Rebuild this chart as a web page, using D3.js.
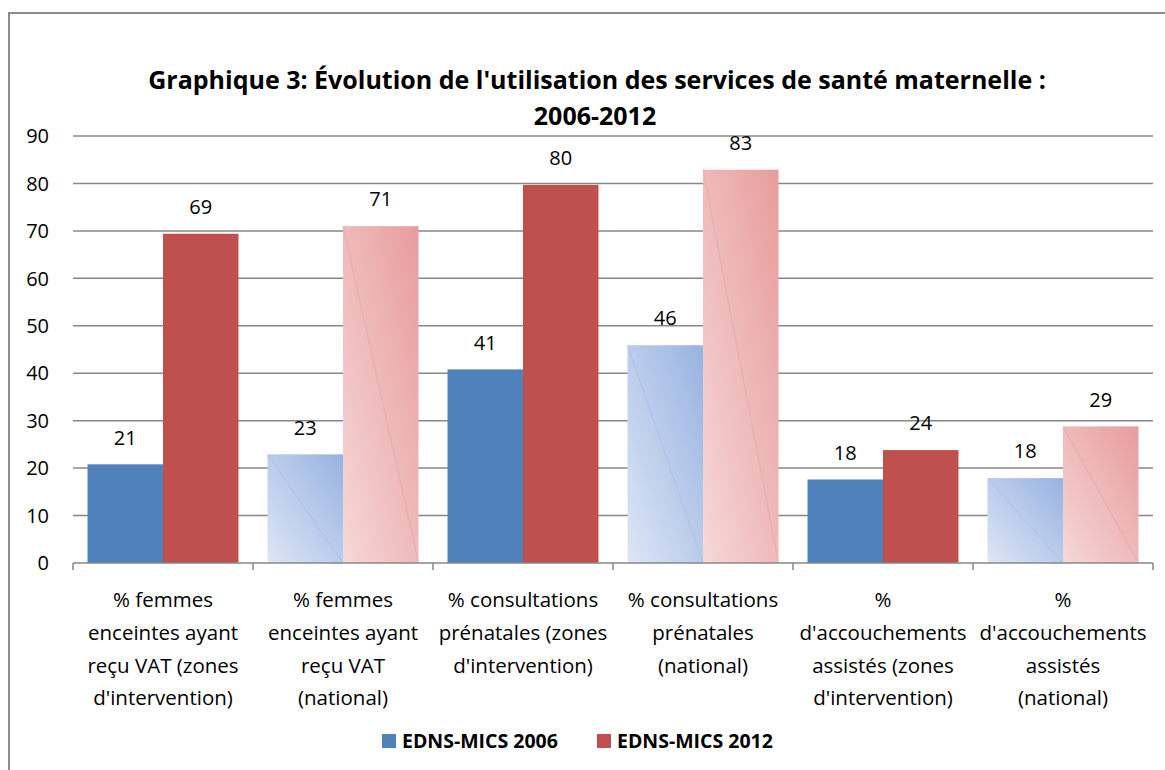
<!DOCTYPE html>
<html>
<head>
<meta charset="utf-8">
<script src="https://cdn.jsdelivr.net/npm/d3@7"></script>
<style>
  body { margin: 0; background: #fff; }
  text { font-family: "Open Sans", "Noto Sans", sans-serif; fill: #000; }
</style>
</head>
<body>
<div class="chart"></div>
<script>
// data
var categories = ["vatZones", "vatNational", "cpnZones", "cpnNational", "accZones", "accNational"];
var categoryLabels = [
  ["% femmes", "enceintes ayant", "reçu VAT (zones", "d'intervention)"],
  ["% femmes", "enceintes ayant", "reçu VAT", "(national)"],
  ["% consultations", "prénatales (zones", "d'intervention)"],
  ["% consultations", "prénatales", "(national)"],
  ["%", "d'accouchements", "assistés (zones", "d'intervention)"],
  ["%", "d'accouchements", "assistés", "(national)"]
];
var seriesNames = ["EDNS-MICS 2006", "EDNS-MICS 2012"];
var values2006 = [20.8, 22.9, 40.8, 45.9, 17.6, 17.9];
var values2012 = [69.4, 71.0, 79.7, 82.9, 23.8, 28.8];
var yTicks = [0, 10, 20, 30, 40, 50, 60, 70, 80, 90];
var nationalCats = ["vatNational", "cpnNational", "accNational"];

var svgWidth = 1165;
var svgHeight = 770;

var svg = d3.select(".chart")
  .append("svg")
  .attr("width", svgWidth)
  .attr("height", svgHeight);

svg.append("rect")
  .attr("width", svgWidth)
  .attr("height", svgHeight)
  .attr("fill", "#fff");

// chart frame (only top and left edges are in view)
svg.append("path")
  .attr("d", "M9,770 V13 H1165")
  .attr("fill", "none")
  .attr("stroke", "#8c8c8c")
  .attr("stroke-width", 2);

// gradients for the national bars
var defs = svg.append("defs");
function addGrad(id, c1, c2) {
  var g = defs.append("linearGradient")
    .attr("id", id)
    .attr("x1", "0%").attr("y1", "100%")
    .attr("x2", "100%").attr("y2", "0%");
  g.append("stop").attr("offset", "0%").attr("stop-color", c1);
  g.append("stop").attr("offset", "100%").attr("stop-color", c2);
}
addGrad("gradBlue", "#dde6f5", "#98b3e2");
addGrad("gradRed", "#f6d8d8", "#e89c9c");

var x0 = d3.scaleBand()
  .domain(categories)
  .range([73, 1153]);

var x1 = d3.scaleBand()
  .domain(seriesNames)
  .range([14.5, x0.bandwidth() - 14.5]);

var y = d3.scaleLinear()
  .domain([0, 90])
  .range([563, 136]);

// gridlines
svg.append("g")
  .selectAll("line")
  .data(yTicks.slice(1))
  .enter()
  .append("line")
  .attr("x1", 73)
  .attr("x2", 1153)
  .attr("y1", d => y(d))
  .attr("y2", d => y(d))
  .attr("stroke", "#878787")
  .attr("stroke-width", 1.5);

// y axis labels
svg.append("g")
  .selectAll("text")
  .data(yTicks)
  .enter()
  .append("text")
  .attr("x", 49)
  .attr("y", d => y(d))
  .attr("dy", "0.36em")
  .attr("text-anchor", "end")
  .attr("font-size", "20px")
  .text(d => d);

// bars
var rows = categories.map(function(c, i) {
  return { cat: c, vals: [values2006[i], values2012[i]] };
});

var groups = svg.append("g")
  .selectAll("g")
  .data(rows)
  .enter()
  .append("g")
  .attr("transform", d => `translate(${x0(d.cat)},0)`);

groups.selectAll("rect")
  .data(d => d.vals.map(function(v, j) {
    return { name: seriesNames[j], v: v, national: nationalCats.indexOf(d.cat) >= 0, j: j };
  }))
  .enter()
  .append("rect")
  .attr("x", d => x1(d.name))
  .attr("y", d => y(d.v))
  .attr("width", x1.bandwidth())
  .attr("height", d => y(0) - y(d.v))
  .attr("fill", function(d) {
    if (d.national) return d.j === 0 ? "url(#gradBlue)" : "url(#gradRed)";
    return d.j === 0 ? "#4f81bd" : "#c0504d";
  });

// faint diagonal streak seen on the national bars
groups.filter(d => nationalCats.indexOf(d.cat) >= 0)
  .selectAll("line")
  .data(d => d.vals.map(function(v, j) { return { name: seriesNames[j], v: v, j: j }; }))
  .enter()
  .append("line")
  .attr("x1", d => x1(d.name))
  .attr("y1", d => y(d.v))
  .attr("x2", d => x1(d.name) + x1.bandwidth())
  .attr("y2", y(0))
  .attr("stroke", d => d.j === 0 ? "#9fb6e0" : "#e59a9a")
  .attr("stroke-width", 0.8)
  .attr("opacity", 0.6);

// value labels
groups.selectAll("text.val")
  .data(d => d.vals.map(function(v, j) { return { name: seriesNames[j], v: v }; }))
  .enter()
  .append("text")
  .attr("class", "val")
  .attr("x", d => x1(d.name) + x1.bandwidth() / 2)
  .attr("y", d => y(d.v) - 27)
  .attr("dy", "0.36em")
  .attr("text-anchor", "middle")
  .attr("font-size", "20px")
  .text(d => Math.round(d.v));

// x axis
svg.append("line")
  .attr("x1", 73).attr("x2", 1153)
  .attr("y1", y(0)).attr("y2", y(0))
  .attr("stroke", "#878787")
  .attr("stroke-width", 1.5);

svg.append("g")
  .selectAll("line")
  .data(categories.concat(["end"]))
  .enter()
  .append("line")
  .attr("x1", (d, i) => 73 + i * x0.bandwidth())
  .attr("x2", (d, i) => 73 + i * x0.bandwidth())
  .attr("y1", y(0))
  .attr("y2", y(0) + 7)
  .attr("stroke", "#878787")
  .attr("stroke-width", 1.5);

// category labels
var catText = svg.append("g")
  .selectAll("text")
  .data(categories)
  .enter()
  .append("text")
  .attr("text-anchor", "middle")
  .attr("font-size", "20.5px")
  .attr("transform", d => `translate(${x0(d) + x0.bandwidth() / 2},0)`);

catText.selectAll("tspan")
  .data((d, i) => categoryLabels[i])
  .enter()
  .append("tspan")
  .attr("x", 0)
  .attr("y", (d, i) => 600 + i * 32.7)
  .attr("dy", "0.36em")
  .text(d => d);

// title
var title = svg.append("text")
  .attr("text-anchor", "middle")
  .attr("font-size", "25px")
  .attr("font-weight", "bold");
title.append("tspan").attr("x", 597).attr("y", 80).attr("dy", "0.36em")
  .text("Graphique 3: Évolution de l'utilisation des services de santé maternelle :");
title.append("tspan").attr("x", 595).attr("y", 116).attr("dy", "0.36em")
  .text("2006-2012");

// legend
var legendX = [382, 597];
var legendColors = ["#4f81bd", "#c0504d"];
var legend = svg.append("g")
  .selectAll("g")
  .data(seriesNames)
  .enter()
  .append("g")
  .attr("transform", (d, i) => `translate(${legendX[i]},741)`);

legend.append("rect")
  .attr("x", 0).attr("y", -7)
  .attr("width", 14).attr("height", 14)
  .attr("fill", (d, i) => legendColors[i]);

legend.append("text")
  .attr("x", 20)
  .attr("dy", "0.36em")
  .attr("font-size", "19.5px")
  .attr("font-weight", "bold")
  .text(d => d);
</script>
</body>
</html>
